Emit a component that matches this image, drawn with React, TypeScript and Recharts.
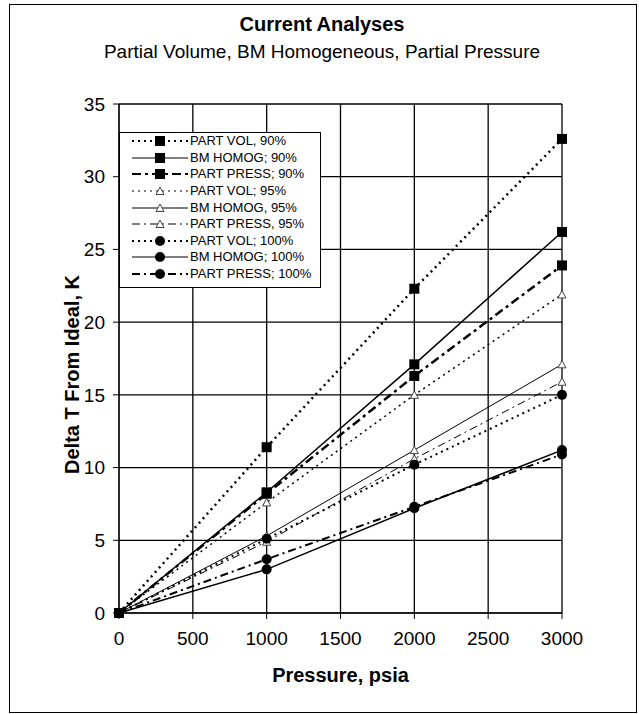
import React from 'react';
import { LineChart, Line, XAxis, YAxis, CartesianGrid, Label } from 'recharts';

// pressure in psia
const pressure = [0, 1000, 2000, 3000];

// delta T from ideal (K)
const partVol90 = [0, 11.4, 22.3, 32.6];
const bmHomog90 = [0, 8.3, 17.1, 26.2];
const partPress90 = [0, 8.2, 16.3, 23.9];
const partVol95 = [0, 7.6, 15.0, 21.9];
const bmHomog95 = [0, 5.3, 11.2, 17.1];
const partPress95 = [0, 4.9, 10.6, 15.9];
const partVol100 = [0, 5.1, 10.2, 15.0];
const bmHomog100 = [0, 3.0, 7.2, 11.2];
const partPress100 = [0, 3.7, 7.3, 10.9];

const xTicks = [0, 500, 1000, 1500, 2000, 2500, 3000];
const yTicks = [0, 5, 10, 15, 20, 25, 30, 35];

type Marker = 'square' | 'triangle' | 'circle';

const series = [
    { key: 'pv90', name: 'PART VOL, 90%', values: partVol90, dash: '2 4', width: 2.5, marker: 'square' as Marker },
    { key: 'bm90', name: 'BM HOMOG; 90%', values: bmHomog90, dash: undefined, width: 1.5, marker: 'square' as Marker },
    { key: 'pp90', name: 'PART PRESS; 90%', values: partPress90, dash: '9 4 3 4', width: 2.5, marker: 'square' as Marker },
    { key: 'pv95', name: 'PART VOL; 95%', values: partVol95, dash: '2 4', width: 1.5, marker: 'triangle' as Marker },
    { key: 'bm95', name: 'BM HOMOG, 95%', values: bmHomog95, dash: undefined, width: 1, marker: 'triangle' as Marker },
    { key: 'pp95', name: 'PART PRESS, 95%', values: partPress95, dash: '8 4 2 4', width: 1, marker: 'triangle' as Marker },
    { key: 'pv100', name: 'PART VOL; 100%', values: partVol100, dash: '2 4', width: 2, marker: 'circle' as Marker },
    { key: 'bm100', name: 'BM HOMOG; 100%', values: bmHomog100, dash: undefined, width: 1.5, marker: 'circle' as Marker },
    { key: 'pp100', name: 'PART PRESS; 100%', values: partPress100, dash: '8 4 2 4', width: 2, marker: 'circle' as Marker },
];

const data = pressure.map((p, i) => {
    const row: Record<string, number> = { pressure: p };
    series.forEach(s => { row[s.key] = s.values[i]; });
    return row;
});

const font = '"Liberation Sans", Arial, sans-serif';

const drawMarker = (marker: Marker, cx: number, cy: number, key?: string | number) => {
    if (marker === 'square') {
        return <rect key={key} x={cx - 5} y={cy - 5} width={10} height={10} fill="#000" />;
    }
    if (marker === 'triangle') {
        return (
            <path
                key={key}
                d={`M${cx},${cy - 4} L${cx + 4},${cy + 3.5} L${cx - 4},${cy + 3.5} Z`}
                fill="#fff"
                stroke="#444"
                strokeWidth={1}
            />
        );
    }
    return <circle key={key} cx={cx} cy={cy} r={5} fill="#000" />;
};

const makeDot = (marker: Marker) => (props: any) => {
    const { cx, cy, index } = props;
    if (cx == null || cy == null) return <g key={index} />;
    return drawMarker(marker, cx, cy, index);
};

const ChartLegend = () => (
    <div
        style={{
            position: 'absolute',
            left: 119,
            top: 132,
            width: 200,
            height: 154,
            border: '1px solid #000',
            background: '#fff',
            fontFamily: font,
            fontSize: 13,
            paddingTop: 0,
        }}
    >
        {series.map(s => (
            <div key={s.key} style={{ display: 'flex', alignItems: 'center', height: 16.6, marginTop: 0 }}>
                <svg width={70} height={16} style={{ flex: 'none' }}>
                    <line
                        x1={12}
                        x2={68}
                        y1={8}
                        y2={8}
                        stroke="#000"
                        strokeWidth={s.width > 1.8 ? 2 : 1.2}
                        strokeDasharray={s.dash}
                    />
                    {drawMarker(s.marker, 40, 8)}
                </svg>
                <span style={{ whiteSpace: 'nowrap', lineHeight: '16px' }}>{s.name}</span>
            </div>
        ))}
    </div>
);

const App: React.FC = () => {
    return (
        <div style={{ position: 'absolute', left: 0, top: 0, width: 639, height: 714, background: '#fff', fontFamily: font }}>
            <div
                style={{
                    position: 'absolute',
                    left: 9,
                    top: 4,
                    width: 626,
                    height: 707,
                    border: '1px solid #000',
                }}
            />
            <div style={{ position: 'absolute', left: 10, width: 624, top: 12, textAlign: 'center', fontWeight: 'bold', fontSize: 20, lineHeight: '24px' }}>
                Current Analyses
            </div>
            <div style={{ position: 'absolute', left: 10, width: 624, top: 40, textAlign: 'center', fontSize: 19, lineHeight: '24px' }}>
                Partial Volume, BM Homogeneous, Partial Pressure
            </div>
            <div style={{ position: 'absolute', left: 0, top: 0 }}>
                <LineChart width={639} height={714} data={data} margin={{ top: 104, right: 77, bottom: 61, left: 0 }}>
                    <CartesianGrid stroke="#000" strokeWidth={1.3} />
                    <XAxis
                        dataKey="pressure"
                        type="number"
                        domain={[0, 3000]}
                        ticks={xTicks}
                        height={40}
                        stroke="#000"
                        tickSize={6}
                        tickMargin={13}
                        tick={{ fill: '#000', fontSize: 19, fontFamily: font }}
                    >
                        <Label
                            content={(props: any) => {
                                const vb = props.viewBox || { x: 119, y: 613, width: 443, height: 40 };
                                return (
                                    <text x={vb.x + vb.width / 2} y={vb.y + 69} textAnchor="middle" fontSize={20} fontWeight="bold" fontFamily={font} fill="#000">
                                        Pressure, psia
                                    </text>
                                );
                            }}
                        />
                    </XAxis>
                    <YAxis
                        type="number"
                        domain={[0, 35]}
                        ticks={yTicks}
                        width={119}
                        stroke="#000"
                        tickSize={6}
                        tickMargin={8}
                        tick={{ fill: '#000', fontSize: 19, fontFamily: font }}
                    >
                        <Label
                            content={(props: any) => {
                                const vb = props.viewBox || { x: 0, y: 104, width: 119, height: 509 };
                                const cx = 79;
                                const cy = vb.y + vb.height / 2 + 16;
                                return (
                                    <text x={cx} y={cy} transform={`rotate(-90 ${cx} ${cy})`} textAnchor="middle" fontSize={20} fontWeight="bold" fontFamily={font} fill="#000">
                                        Delta T From Ideal, K
                                    </text>
                                );
                            }}
                        />
                    </YAxis>
                    {series.map(s => (
                        <Line
                            key={s.key}
                            dataKey={s.key}
                            name={s.name}
                            type="linear"
                            stroke="#000"
                            strokeWidth={s.width}
                            strokeDasharray={s.dash}
                            dot={makeDot(s.marker)}
                            activeDot={false}
                            isAnimationActive={false}
                        />
                    ))}
                </LineChart>
            </div>
            <ChartLegend />
        </div>
    );
};

export default App;
